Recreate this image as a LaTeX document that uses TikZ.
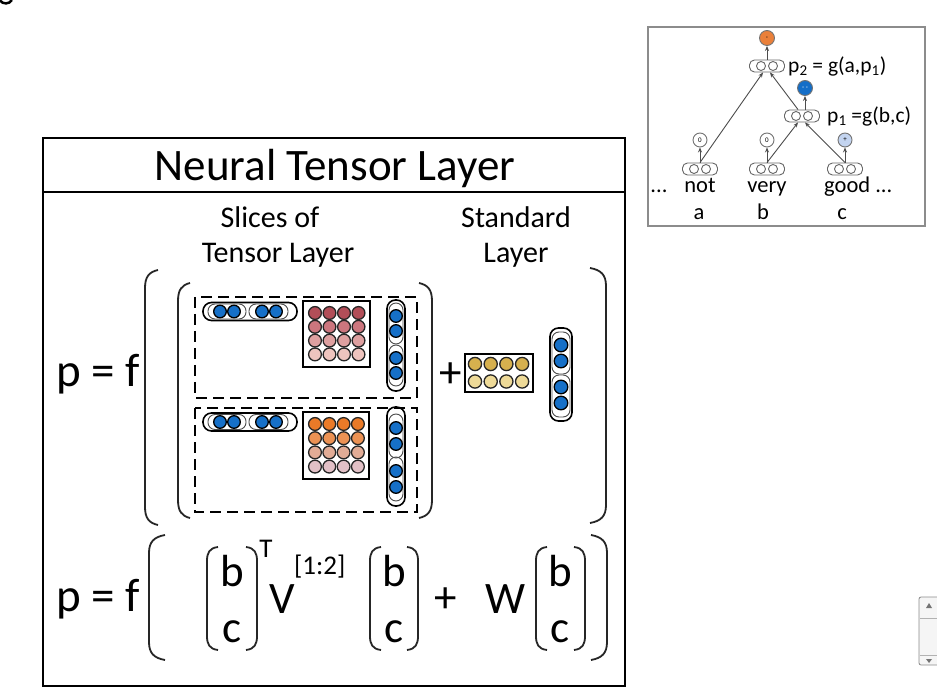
\documentclass[tikz,border=0pt]{standalone}
\usepackage{fontspec}
\setmainfont{Carlito}
\usetikzlibrary{arrows.meta}
\definecolor{blu}{RGB}{22,112,200}
\definecolor{ra}{RGB}{178,78,88}
\definecolor{rb}{RGB}{204,118,126}
\definecolor{rc}{RGB}{222,160,160}
\definecolor{rd}{RGB}{238,196,190}
\definecolor{oa}{RGB}{234,122,40}
\definecolor{ob}{RGB}{236,146,84}
\definecolor{oc}{RGB}{226,172,150}
\definecolor{od}{RGB}{226,192,198}
\definecolor{ga}{RGB}{214,176,78}
\definecolor{gb}{RGB}{238,218,152}
\definecolor{torange}{RGB}{234,128,58}
\definecolor{tblue}{RGB}{20,110,200}
\definecolor{tlblue}{RGB}{195,212,240}
\newcommand\parenpath[4]{({#1+(#2)},#3) .. controls ({#1+0.3*(#2)},{#3+2}) and (#1,{#3+7}) .. (#1,{#3+18}) -- (#1,{#4-18}) .. controls (#1,{#4-7}) and ({#1+0.3*(#2)},{#4-2}) .. ({#1+(#2)},#4)}
\newcommand\vbrack[4]{({#1+(#2)},#3) .. controls ({#1+0.2*(#2)},{#3+1}) and (#1,{#3+6}) .. (#1,{#3+14}) -- (#1,{#4-14}) .. controls (#1,{#4-6}) and ({#1+0.2*(#2)},{#4-1}) .. ({#1+(#2)},#4)}
\begin{document}
\begin{tikzpicture}[x=1pt,y=-1pt,
  bdot/.style={draw=black,line width=1.3pt,fill=blu},
  mdot/.style={draw=black!85,line width=1.3pt},
  capout/.style={draw=black,line width=1.6pt,rounded corners=8.5pt},
  capin/.style={draw=black!70,line width=0.9pt,rounded corners=7pt},
  mbox/.style={draw=black,line width=2.2pt,fill=white},
  dbox/.style={draw=black,line width=2.6pt,dash pattern=on 11pt off 6pt},
  parenline/.style={draw=black!85,line width=1.8pt},
  bigtxt/.style={inner sep=0pt,font=\fontsize{45}{54}\selectfont},
  eqtxt/.style={inner sep=0pt,font=\fontsize{47}{56}\selectfont},
  midtxt/.style={inner sep=0pt,font=\fontsize{30}{36}\selectfont},
  smtxt/.style={inner sep=0pt,font=\fontsize{27}{32}\selectfont},
  tcap/.style={draw=black!60,line width=0.9pt,rounded corners=5pt,minimum width=35pt,minimum height=12pt,inner sep=0pt},
  tin/.style={draw=black!60,line width=0.9pt},
  outc/.style={circle,draw=black!55,line width=0.9pt,minimum size=14pt,inner sep=0pt,font=\fontsize{7}{7}\selectfont},
  tarr/.style={draw=black!70,line width=0.9pt,-{Stealth[length=5pt,width=4pt]}},
  twd/.style={inner sep=0pt,font=\fontsize{22.5}{26}\selectfont},
  tlb/.style={inner sep=0pt,font=\fontsize{21.5}{25}\selectfont}]
\useasboundingbox (0,0) rectangle (937,700);
\fill[white] (0,0) rectangle (937,700);
% stray fragment top-left
\draw[line width=2.5pt] (0,0.5) .. controls (3,4.5) and (9,4.5) .. (12,0);
% main frame
\draw[line width=2.5pt] (43,138) rectangle (625,686);
\draw[line width=2.5pt] (43,192) -- (625,192);
\node[bigtxt,anchor=base] (title) at (335,181) {Neural Tensor Layer};
\node[midtxt,anchor=base] (sl1) at (270,228) {Slices of};
\node[midtxt,anchor=base] (sl2) at (278,263) {Tensor Layer};
\node[midtxt,anchor=base] (st1) at (516,228) {Standard};
\node[midtxt,anchor=base] (st2) at (516,263) {Layer};
% upper equation
\node[eqtxt,anchor=base west] (pf1) at (56,387) {p = f};
\draw[parenline] \parenpath{145}{13}{270}{525};
\draw[parenline] \parenpath{178}{12}{283}{518};
\draw[parenline] \parenpath{432}{-13}{283}{518};
\draw[parenline] \parenpath{606}{-16}{268}{523};
\draw[dbox] (195,297) rectangle (417,398);
\draw[dbox] (195,408) rectangle (417,512);
% upper slice
\draw[capout] (203,302.5) rectangle (297,320.5);
\draw[capin] (208,304) rectangle (246,319);
\draw[capin] (249,304) rectangle (288,319);
\foreach \x in {220,234,262,276} \draw[bdot] (\x,311.5) circle[radius=6.3];
\draw[mbox] (303,301) rectangle (370,367);
\foreach \c [count=\j from 0] in {ra,rb,rc,rd}
  \foreach \i in {0,1,2,3}
    \draw[mdot,fill=\c] ({315+14.5*\i},{313+13.8*\j}) circle[radius=6.4];
\draw[capout] (387,300) rectangle (405,391);
\draw[capin] (389,303) rectangle (403,344);
\draw[capin] (389,345) rectangle (403,386);
\foreach \y in {316,331,358,373} \draw[bdot] (396,\y) circle[radius=6.3];
% lower slice
\draw[capout] (203,413) rectangle (297,431);
\draw[capin] (208,414.5) rectangle (246,429.5);
\draw[capin] (249,414.5) rectangle (288,429.5);
\foreach \x in {220,234,262,276} \draw[bdot] (\x,422) circle[radius=6.3];
\draw[mbox] (303,412) rectangle (369,479);
\foreach \c [count=\j from 0] in {oa,ob,oc,od}
  \foreach \i in {0,1,2,3}
    \draw[mdot,fill=\c] ({315+14.3*\i},{424+14.2*\j}) circle[radius=6.4];
\draw[capout] (387,407) rectangle (405,506);
\draw[capin] (389,414) rectangle (403,458);
\draw[capin] (389,457) rectangle (403,501);
\foreach \y in {428,444,471,487} \draw[bdot] (396,\y) circle[radius=6.3];
% standard layer
\node[bigtxt] (plus1) at (451,375) {+};
\draw[mbox] (465,354) rectangle (533,392);
\foreach \c [count=\j from 0] in {ga,gb}
  \foreach \i in {0,1,2,3}
    \draw[mdot,fill=\c] ({475+15.7*\i},{364+17.5*\j}) circle[radius=6.6];
\draw[capout] (550,328) rectangle (572,421);
\draw[capin] (552,332) rectangle (570,374);
\draw[capin] (552,375) rectangle (570,417);
\foreach \y in {345,361,387,403} \draw[bdot] (561,\y) circle[radius=6.8];
% lower equation
\node[eqtxt,anchor=base west] (pf2) at (56,611) {p = f};
\draw[parenline] \parenpath{149}{16}{535}{660};
\draw[parenline] \parenpath{607}{-16}{535}{660};
\draw[parenline] \vbrack{207}{11}{547}{650};
\draw[parenline] \vbrack{257}{-11}{547}{650};
\node[bigtxt,anchor=base] (b1) at (232,586) {b};
\node[bigtxt,anchor=base] (c1) at (232,642) {c};
\node[smtxt,anchor=base] (sT) at (266,557) {T};
\node[bigtxt,anchor=base] (sV) at (282,613) {V};
\node[smtxt,anchor=base west] (sidx) at (294,574) {[1:2]};
\draw[parenline] \vbrack{370}{11}{547}{650};
\draw[parenline] \vbrack{418}{-11}{547}{650};
\node[bigtxt,anchor=base] (b2) at (394,586) {b};
\node[bigtxt,anchor=base] (c2) at (394,642) {c};
\node[bigtxt] (plus2) at (446,600) {+};
\node[bigtxt,anchor=base] (sW) at (506,613) {W};
\draw[parenline] \vbrack{536}{11}{547}{650};
\draw[parenline] \vbrack{585}{-11}{547}{650};
\node[bigtxt,anchor=base] (b3) at (560,586) {b};
\node[bigtxt,anchor=base] (c3) at (560,642) {c};
% tree inset
\draw[draw=black!45,line width=1.5pt] (648,27) rectangle (925,226);
\node[tcap] (cn) at (700,169) {};
\node[tcap] (cv) at (767,169) {};
\node[tcap] (cg) at (845,169) {};
\node[tcap] (cp1) at (802,116) {};
\node[tcap] (cp2) at (767,66) {};
\foreach \n in {cn,cv,cg,cp1,cp2} {
  \draw[tin] ([xshift=-6pt]\n.center) circle[radius=4.5];
  \draw[tin] ([xshift=6pt]\n.center) circle[radius=4.5];
}
\node[outc,fill=white] (on) at (700,140) {0};
\node[outc,fill=white] (ov) at (767,140) {0};
\node[outc,fill=tlblue] (og) at (845,140) {+};
\node[outc,fill=tblue,minimum size=15pt,text=white] (op1) at (805,88) {- -};
\node[outc,fill=torange,minimum size=15pt] (op2) at (767,38) {-};
\draw[tarr] (cn.north) -- (on.south);
\draw[tarr] (cv.north) -- (ov.south);
\draw[tarr] (cg.north) -- (og.south);
\draw[tarr] (cp2.north) -- (op2.south);
\draw[tarr] ([xshift=3pt]cp1.north) -- (op1.south);
\draw[tarr] (cn.north) -- ([xshift=-4pt]cp2.south);
\draw[tarr] ([xshift=-4pt]cp1.north) -- ([xshift=3pt]cp2.south);
\draw[tarr] (cv.north) -- ([xshift=-4pt]cp1.south);
\draw[tarr] (cg.north) -- ([xshift=3pt]cp1.south);
\node[tlb,anchor=west] (l2) at (788,66) {p\textsubscript{2} = g(a,p\textsubscript{1})};
\node[tlb,anchor=west] (l1) at (827,116) {p\textsubscript{1} =g(b,c)};
\node[twd,anchor=base] (w0) at (659,193) {...};
\node[twd,anchor=base] (w1) at (700,193) {not};
\node[twd,anchor=base] (w2) at (767,193) {very};
\node[twd,anchor=base west] (w3) at (824,193) {good ...};
\node[twd,anchor=base] (la) at (699,220) {a};
\node[twd,anchor=base] (lb) at (763,220) {b};
\node[twd,anchor=base] (lc) at (842,220) {c};
% scrollbar
\draw[fill=black!4,draw=black!45,line width=0.8pt,rounded corners=2pt] (919,597) rectangle (945,665);
\draw[black!30,line width=0.6pt] (920,618) -- (937,618);
\draw[black!30,line width=0.6pt] (920,655) -- (937,655);
\fill[black!55] (926,608) -- (932,608) -- (929,603) -- cycle;
\fill[black!55] (926,659) -- (932,659) -- (929,663) -- cycle;
\end{tikzpicture}
\end{document}
